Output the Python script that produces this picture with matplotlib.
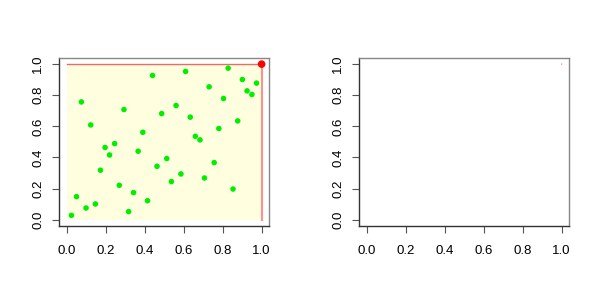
import matplotlib
matplotlib.use("Agg")
import matplotlib.pyplot as plt
from matplotlib.patches import Rectangle

plt.rcParams['font.family'] = ['Liberation Sans', 'DejaVu Sans']

# green points
xs = [0.022, 0.048, 0.073, 0.097, 0.121, 0.145, 0.171, 0.195, 0.218, 0.244,
      0.268, 0.292, 0.316, 0.341, 0.365, 0.389, 0.413, 0.439, 0.462, 0.486,
      0.512, 0.536, 0.560, 0.585, 0.609, 0.633, 0.659, 0.683, 0.706, 0.730,
      0.756, 0.780, 0.804, 0.828, 0.853, 0.877, 0.901, 0.925, 0.950, 0.974]
ys = [0.028, 0.148, 0.757, 0.075, 0.609, 0.101, 0.318, 0.464, 0.416, 0.489,
      0.221, 0.708, 0.052, 0.174, 0.440, 0.562, 0.122, 0.927, 0.343, 0.682,
      0.393, 0.245, 0.734, 0.294, 0.953, 0.659, 0.536, 0.513, 0.268, 0.854,
      0.367, 0.586, 0.779, 0.974, 0.197, 0.635, 0.901, 0.828, 0.805, 0.878]
corner = (1.0, 1.0)
ticks = [0.0, 0.2, 0.4, 0.6, 0.8, 1.0]
tick_labels = ["0.0", "0.2", "0.4", "0.6", "0.8", "1.0"]

fig = plt.figure(figsize=(6, 3), dpi=100)
ax1 = fig.add_axes([0.099, 0.247, 0.35, 0.56])
ax2 = fig.add_axes([0.599, 0.247, 0.35, 0.56])

for ax in (ax1, ax2):
    ax.set_xlim(-0.04, 1.04)
    ax.set_ylim(-0.04, 1.04)
    ax.set_xticks(ticks)
    ax.set_xticklabels(tick_labels)
    ax.set_yticks(ticks)
    ax.set_yticklabels(tick_labels, rotation=90, va="center")
    ax.tick_params(axis="both", length=5, width=0.8, color="#555555",
                   labelsize=9.5)
    ax.tick_params(axis="x", pad=9)
    ax.tick_params(axis="y", pad=6)
    for side in ("top", "right"):
        ax.spines[side].set_color("#888888")
    for side in ("left", "bottom"):
        ax.spines[side].set_color("#333333")
    for s in ax.spines.values():
        s.set_linewidth(1.0)

# left panel: shaded unit square, edges, points
ax1.add_patch(Rectangle((0, 0), 1, 1, facecolor="#FFFFE0", edgecolor="none", zorder=0))
ax1.plot([0, 1], [1, 1], color="#F06868", lw=1.0, zorder=1)
ax1.plot([1, 1], [0, 1], color="#FF9090", lw=1.5, zorder=1)
ax1.scatter(xs, ys, s=16, color="#00EE00", edgecolors="none", zorder=2)
ax1.scatter([corner[0]], [corner[1]], s=30, color="#FF0000", edgecolors="none", zorder=3)

# right panel: empty except a tiny point in the corner
ax2.scatter([corner[0]], [corner[1]], s=1, color="#FF8080", edgecolors="none")

fig.savefig("out.png", dpi=100)
